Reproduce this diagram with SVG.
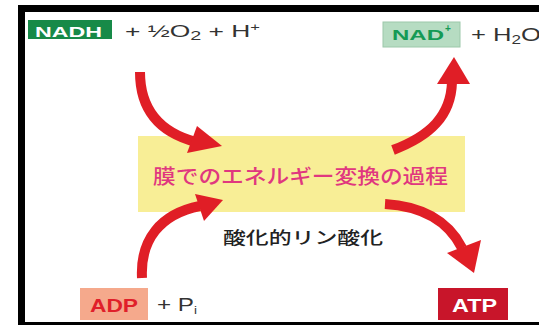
<svg xmlns="http://www.w3.org/2000/svg" width="539" height="325" viewBox="0 0 539 325">
<defs>
<style>
.lat{font-family:"Liberation Sans",Arial,sans-serif;}
.jp{font-family:"Noto Sans CJK JP","Noto Sans CJK SC",sans-serif;}
.bold{font-weight:bold;}
.plain{fill:#333;font-size:16px;}
.arrow{fill:none;stroke:#e01e26;stroke-width:10;stroke-linecap:butt;}
.head{fill:#e01e26;}
</style>
</defs>
<rect x="0" y="0" width="539" height="325" fill="#ffffff"/>
<g id="frame">
<rect x="18" y="5" width="521" height="7" fill="#000"/>
<rect x="18" y="5" width="7" height="320" fill="#000"/>
<rect x="18" y="322" width="521" height="3" fill="#000"/>
</g>
<g id="process">
<rect x="138" y="136" width="327" height="76" fill="#f8ee96"/>
<text class="jp" x="153" y="184" font-size="20" font-weight="500" fill="#e0377f" textLength="295" lengthAdjust="spacingAndGlyphs">膜でのエネルギー変換の過程</text>
</g>
<g id="nadh">
<rect x="28" y="20" width="84" height="19" fill="#178a48"/>
<text class="lat bold" x="35" y="37" font-size="15" fill="#fff" textLength="67" lengthAdjust="spacingAndGlyphs">NADH</text>
</g>
<g id="nadh-rest">
<text class="lat plain" x="125" y="37" textLength="135" lengthAdjust="spacingAndGlyphs">+  ½O<tspan font-size="12" dy="3">2</tspan><tspan dy="-3"> + H</tspan><tspan font-size="10" dy="-6">+</tspan></text>
</g>
<g id="nad">
<rect x="383" y="22" width="77" height="25" fill="#b6dcc2" stroke="#9cc8aa" stroke-width="1"/>
<text class="lat bold" x="392" y="40" font-size="15" fill="#159a55" textLength="52" lengthAdjust="spacingAndGlyphs">NAD</text>
<text class="lat bold" x="445" y="32" font-size="10" fill="#159a55">+</text>
</g>
<g id="water">
<text class="lat" x="471" y="41" font-size="18" fill="#333" textLength="70" lengthAdjust="spacingAndGlyphs">+ H<tspan font-size="12" dy="3">2</tspan><tspan dy="-3">O</tspan></text>
</g>
<g id="adp">
<rect x="80" y="288" width="68" height="32" fill="#f5a98c"/>
<text class="lat bold" x="90" y="312" font-size="18" fill="#e0202a" textLength="48" lengthAdjust="spacingAndGlyphs">ADP</text>
</g>
<g id="pi">
<text class="lat" x="157" y="311" font-size="18" fill="#333" textLength="40" lengthAdjust="spacingAndGlyphs">+ P<tspan font-size="10" dy="3">i</tspan></text>
</g>
<g id="atp">
<rect x="438" y="288" width="70" height="32" fill="#c8152a"/>
<text class="lat bold" x="452" y="312" font-size="18" fill="#fff" textLength="45" lengthAdjust="spacingAndGlyphs">ATP</text>
</g>
<g id="label">
<text class="jp" x="223" y="244" font-size="17" font-weight="500" fill="#222" textLength="160" lengthAdjust="spacingAndGlyphs">酸化的リン酸化</text>
</g>
<g id="connectors">
<path class="arrow" d="M140,72 C140,108 158,132 196,142"/>
<polygon class="head" points="197,126 187,153 222,146"/>
<path class="arrow" d="M393,150 C430,136 451,116 452,82"/>
<polygon class="head" points="437,84 470,84 454,57"/>
<path class="arrow" d="M142,278 C140,240 160,214 200,206"/>
<polygon class="head" points="195,194 204,221 223,200"/>
<path class="arrow" d="M385,204 C420,206 448,220 462,248"/>
<polygon class="head" points="447,253 481,240 474,273"/>
</g>
</svg>
